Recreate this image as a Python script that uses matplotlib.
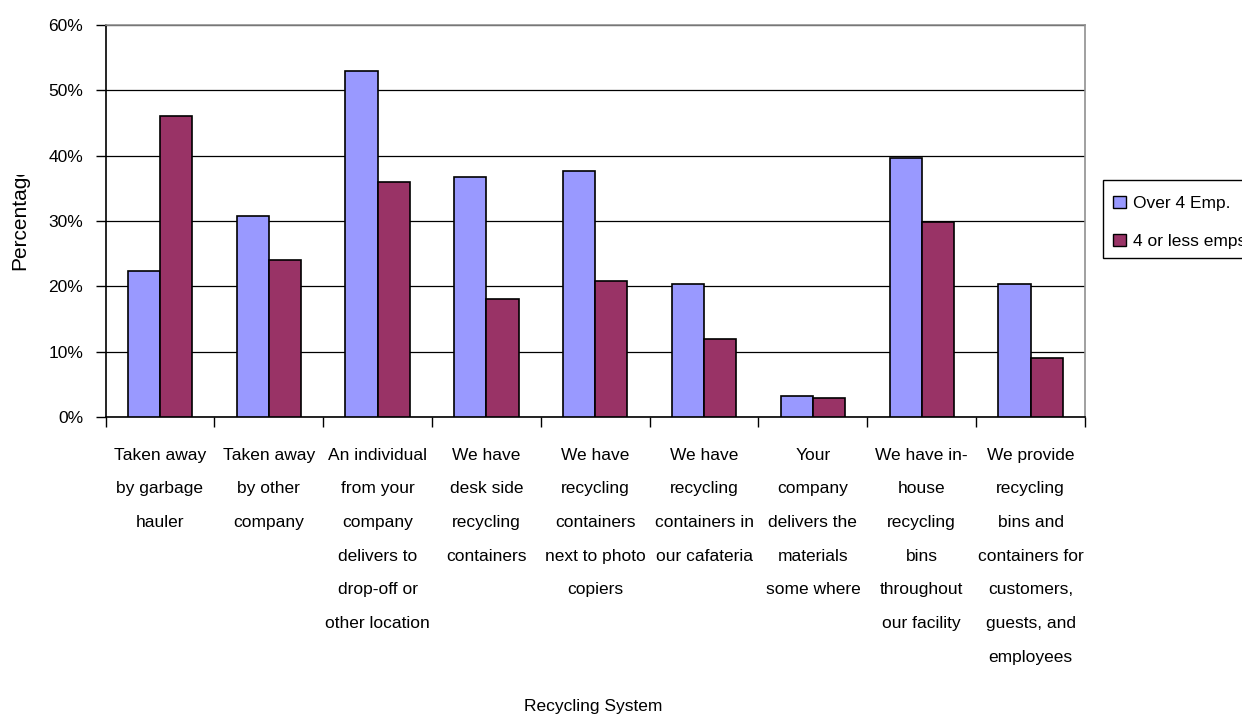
import numpy as np
import matplotlib.pyplot as plt
from matplotlib.patches import Patch, Rectangle

plt.rcParams['font.family'] = ['Liberation Sans', 'DejaVu Sans']

# data
categories = [
    "Taken away\nby garbage\nhauler",
    "Taken away\nby other\ncompany",
    "An individual\nfrom your\ncompany\ndelivers to\ndrop-off or\nother location",
    "We have\ndesk side\nrecycling\ncontainers",
    "We have\nrecycling\ncontainers\nnext to photo\ncopiers",
    "We have\nrecycling\ncontainers in\nour cafateria",
    "Your\ncompany\ndelivers the\nmaterials\nsome where",
    "We have in-\nhouse\nrecycling\nbins\nthroughout\nour facility",
    "We provide\nrecycling\nbins and\ncontainers for\ncustomers,\nguests, and\nemployees",
]
over_4 = [22.3, 30.7, 52.9, 36.8, 37.6, 20.3, 3.2, 39.7, 20.3]
four_or_less = [46.0, 24.0, 35.9, 18.0, 20.8, 11.9, 2.9, 29.9, 9.0]
series_names = ["Over 4 Emp.", "4 or less emps"]
yticks = [0, 10, 20, 30, 40, 50, 60]

c_over = '#9999FF'
c_less = '#993366'
fs = 12.5

W, H = 1242, 714
fig = plt.figure(figsize=(W / 100, H / 100), dpi=100)
ax = fig.add_axes([105.5 / W, 1 - 417 / H, (1085 - 105.5) / W, (417 - 25) / H])

x = np.arange(len(categories))
bw = 0.295
ax.bar(x - bw / 2, over_4, bw, color=c_over, edgecolor='black', linewidth=1.2, zorder=3)
ax.bar(x + bw / 2, four_or_less, bw, color=c_less, edgecolor='black', linewidth=1.2, zorder=3)

ax.set_xlim(-0.5, len(categories) - 0.5)
ax.set_ylim(0, 60)
ax.set_yticks(yticks)
ax.set_yticklabels([f"{v}%" for v in yticks], fontsize=fs)
ax.yaxis.grid(True, color='black', linewidth=0.9, zorder=0)

# tick marks on category boundaries, labels in the middle
ax.set_xticks(np.arange(-0.5, len(categories), 1.0))
ax.set_xticklabels([])
ax.set_xticks(x, minor=True)
ax.set_xticklabels(categories, minor=True, fontsize=fs, linespacing=2.56, va='top')
ax.tick_params(axis='x', which='minor', length=0, pad=22)
ax.tick_params(axis='x', which='major', length=7, width=1, direction='out')
ax.tick_params(axis='y', length=7, width=1, direction='out', pad=9)

for s in ['left', 'bottom']:
    ax.spines[s].set_color('black')
    ax.spines[s].set_linewidth(1.2)
for s in ['top', 'right']:
    ax.spines[s].set_color('#909090')
    ax.spines[s].set_linewidth(1.2)

# y label, its top end is cut off in the original
fig.text(20 / W, 1 - 217 / H, "Percentage", rotation=90, fontsize=15,
         ha='center', va='center')
fig.add_artist(Rectangle((0, 1 - 175 / H), 34 / W, 50 / H, transform=fig.transFigure,
                         facecolor='white', edgecolor='none', zorder=10))

fig.text(593 / W, 1 - 707 / H, "Recycling System", fontsize=fs, ha='center', va='center')

# legend: frame drawn separately, runs off the right edge like the original
fig.add_artist(Rectangle((1103 / W, 1 - 258 / H), 160 / W, 78 / H, transform=fig.transFigure,
                         facecolor='white', edgecolor='black', linewidth=1.0, zorder=4))
handles = [Patch(facecolor=c_over, edgecolor='black'), Patch(facecolor=c_less, edgecolor='black')]
leg = fig.legend(handles, series_names, loc='upper left', bbox_to_anchor=(1113 / W, 1 - 196 / H),
                 fontsize=fs, frameon=False, handlelength=0.72, handleheight=0.72,
                 handletextpad=0.45, labelspacing=1.3, borderpad=0, borderaxespad=0)
leg.set_zorder(5)

fig.savefig('out.png', dpi=100)
